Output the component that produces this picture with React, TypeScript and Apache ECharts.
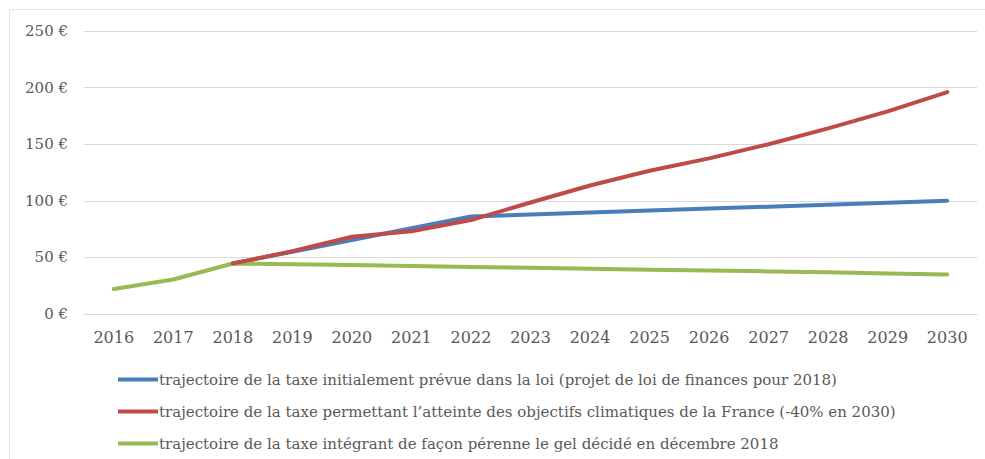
import React, { useEffect, useRef } from "react";
import * as echarts from "echarts";

const years = ["2016","2017","2018","2019","2020","2021","2022","2023","2024","2025","2026","2027","2028","2029","2030"];
const initialTrajectory = [null, null, 44.6, 55, 65.4, 75.8, 86.2, 87.9, 89.7, 91.4, 93.1, 94.8, 96.6, 98.3, 100];
const climateTrajectory = [null, null, 44.6, 55.5, 68.3, 73, 83, 98.5, 113.5, 126.5, 137.5, 150, 164, 179, 196];
const freezeTrajectory = [22, 30.5, 44.6, 44, 43.2, 42.4, 41.6, 40.8, 40, 39.2, 38.4, 37.6, 36.8, 35.8, 35];
const seriesNames = [
  "trajectoire de la taxe initialement prévue dans la loi (projet de loi de finances pour 2018)",
  "trajectoire de la taxe permettant l’atteinte des objectifs climatiques de la France (-40% en 2030)",
  "trajectoire de la taxe intégrant de façon pérenne le gel décidé en décembre 2018",
];
const colors = ["#4a7ebb", "#be4b48", "#98b954"];

export default function App() {
  const ref = useRef<HTMLDivElement>(null);
  useEffect(() => {
    document.body.style.margin = "0";
    const chart = echarts.init(ref.current!, undefined, { renderer: "svg" });
    const font = "DejaVu Serif";
    const textColor = "#595959";
    chart.setOption({
      animation: false,
      backgroundColor: "#ffffff",
      graphic: [
        {
          type: "rect",
          shape: { x: 9.5, y: 9.5, width: 990, height: 470 },
          style: { fill: "none", stroke: "#e6e6e6", lineWidth: 1 },
          silent: true,
        },
      ],
      grid: { left: 84, right: 8, top: 31, bottom: 145, containLabel: false },
      xAxis: {
        type: "category",
        data: years,
        boundaryGap: true,
        axisLine: { show: true, lineStyle: { color: "#d9d9d9", width: 1 } },
        axisTick: { show: false },
        axisLabel: { color: textColor, fontFamily: font, fontSize: 16, margin: 15 },
      },
      yAxis: {
        type: "value",
        min: 0,
        max: 250,
        interval: 50,
        axisLine: { show: false },
        axisTick: { show: false },
        splitLine: { lineStyle: { color: "#d9d9d9", width: 1 } },
        axisLabel: {
          color: textColor,
          fontFamily: font,
          fontSize: 15,
          margin: 16,
          formatter: (v: number) => `${v} €`,
        },
      },
      legend: {
        orient: "vertical",
        left: 113,
        top: 367,
        itemWidth: 40,
        itemHeight: 4,
        itemGap: 17,
        icon: "rect",
        textStyle: { color: textColor, fontFamily: font, fontSize: 15, padding: [0, 0, 0, -4] },
        data: seriesNames,
      },
      series: [initialTrajectory, climateTrajectory, freezeTrajectory].map((d, i) => ({
        name: seriesNames[i],
        type: "line",
        data: d,
        showSymbol: false,
        symbol: "none",
        z: i === 2 ? 3 : i === 1 ? 4 : 2,
        lineStyle: { color: colors[i], width: 4, cap: "round", join: "round" },
        itemStyle: { color: colors[i] },
      })),
    });
    return () => chart.dispose();
  }, []);
  return <div ref={ref} style={{ width: 985, height: 459 }} />;
}
